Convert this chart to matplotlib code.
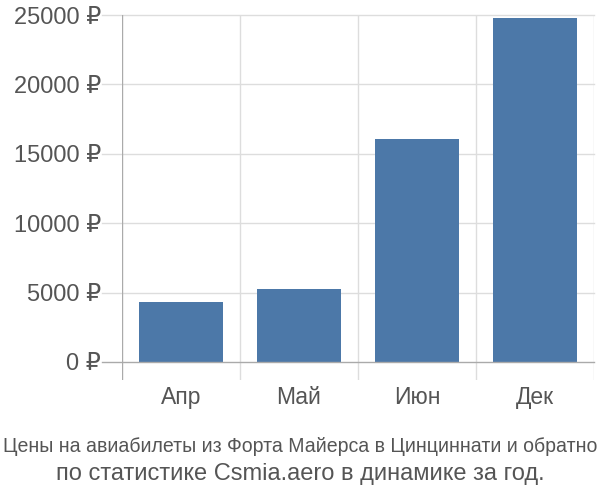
import matplotlib
matplotlib.use("Agg")
import matplotlib.pyplot as plt
import numpy as np

# данные
months = ["Апр", "Май", "Июн", "Дек"]
prices = [4320, 5260, 16050, 24750]
yticks = [0, 5000, 10000, 15000, 20000, 25000]

title1 = "Цены на авиабилеты из Форта Майерса в Цинциннати и обратно"
title2 = "по статистике Csmia.aero в динамике за год."

plt.rcParams['font.family'] = ['Liberation Sans', 'DejaVu Sans']

fig = plt.figure(figsize=(6, 5), dpi=100)
ax = fig.add_axes([122 / 600, 1 - 380 / 500, 472 / 600, 365 / 500])

x = np.arange(len(months)) + 0.5
ax.bar(x, prices, width=0.71, color="#4c78a8", zorder=3)

ax.set_xlim(0, len(months))
ax.set_ylim(-1300, 25000)

# сетка
for yv in yticks:
    ax.plot([-0.17, len(months)], [yv, yv], color="#dddddd" if yv else "#aaaaaa",
            lw=1, clip_on=False, zorder=1 if yv else 4)
for xv in range(len(months) + 1):
    ax.axvline(xv, color="#aaaaaa" if xv == 0 else "#dddddd", lw=1, zorder=1 if xv else 4)

for s in ax.spines.values():
    s.set_visible(False)

ax.set_yticks(yticks)
ax.set_yticklabels([f"{v} ₽" for v in yticks], fontsize=17, color="#555555")
ax.set_xticks(x)
ax.set_xticklabels(months, fontsize=16.5, color="#555555")
ax.tick_params(axis="both", length=0)
ax.tick_params(axis="y", pad=15)
ax.tick_params(axis="x", pad=4.5)

t1 = fig.text(0.5, 1 - 447 / 500, title1, ha="center", va="center", fontsize=14,
              color="#555555")
fig.text(0.5, 1 - 474 / 500, title2, ha="center", va="center", fontsize=17,
         color="#555555")

# подгоняем первую строку под ширину картинки
r = fig.canvas.get_renderer()
w = t1.get_window_extent(r).width
t1.set_fontsize(14 * 598 / w)

fig.savefig("out.png", dpi=100)
